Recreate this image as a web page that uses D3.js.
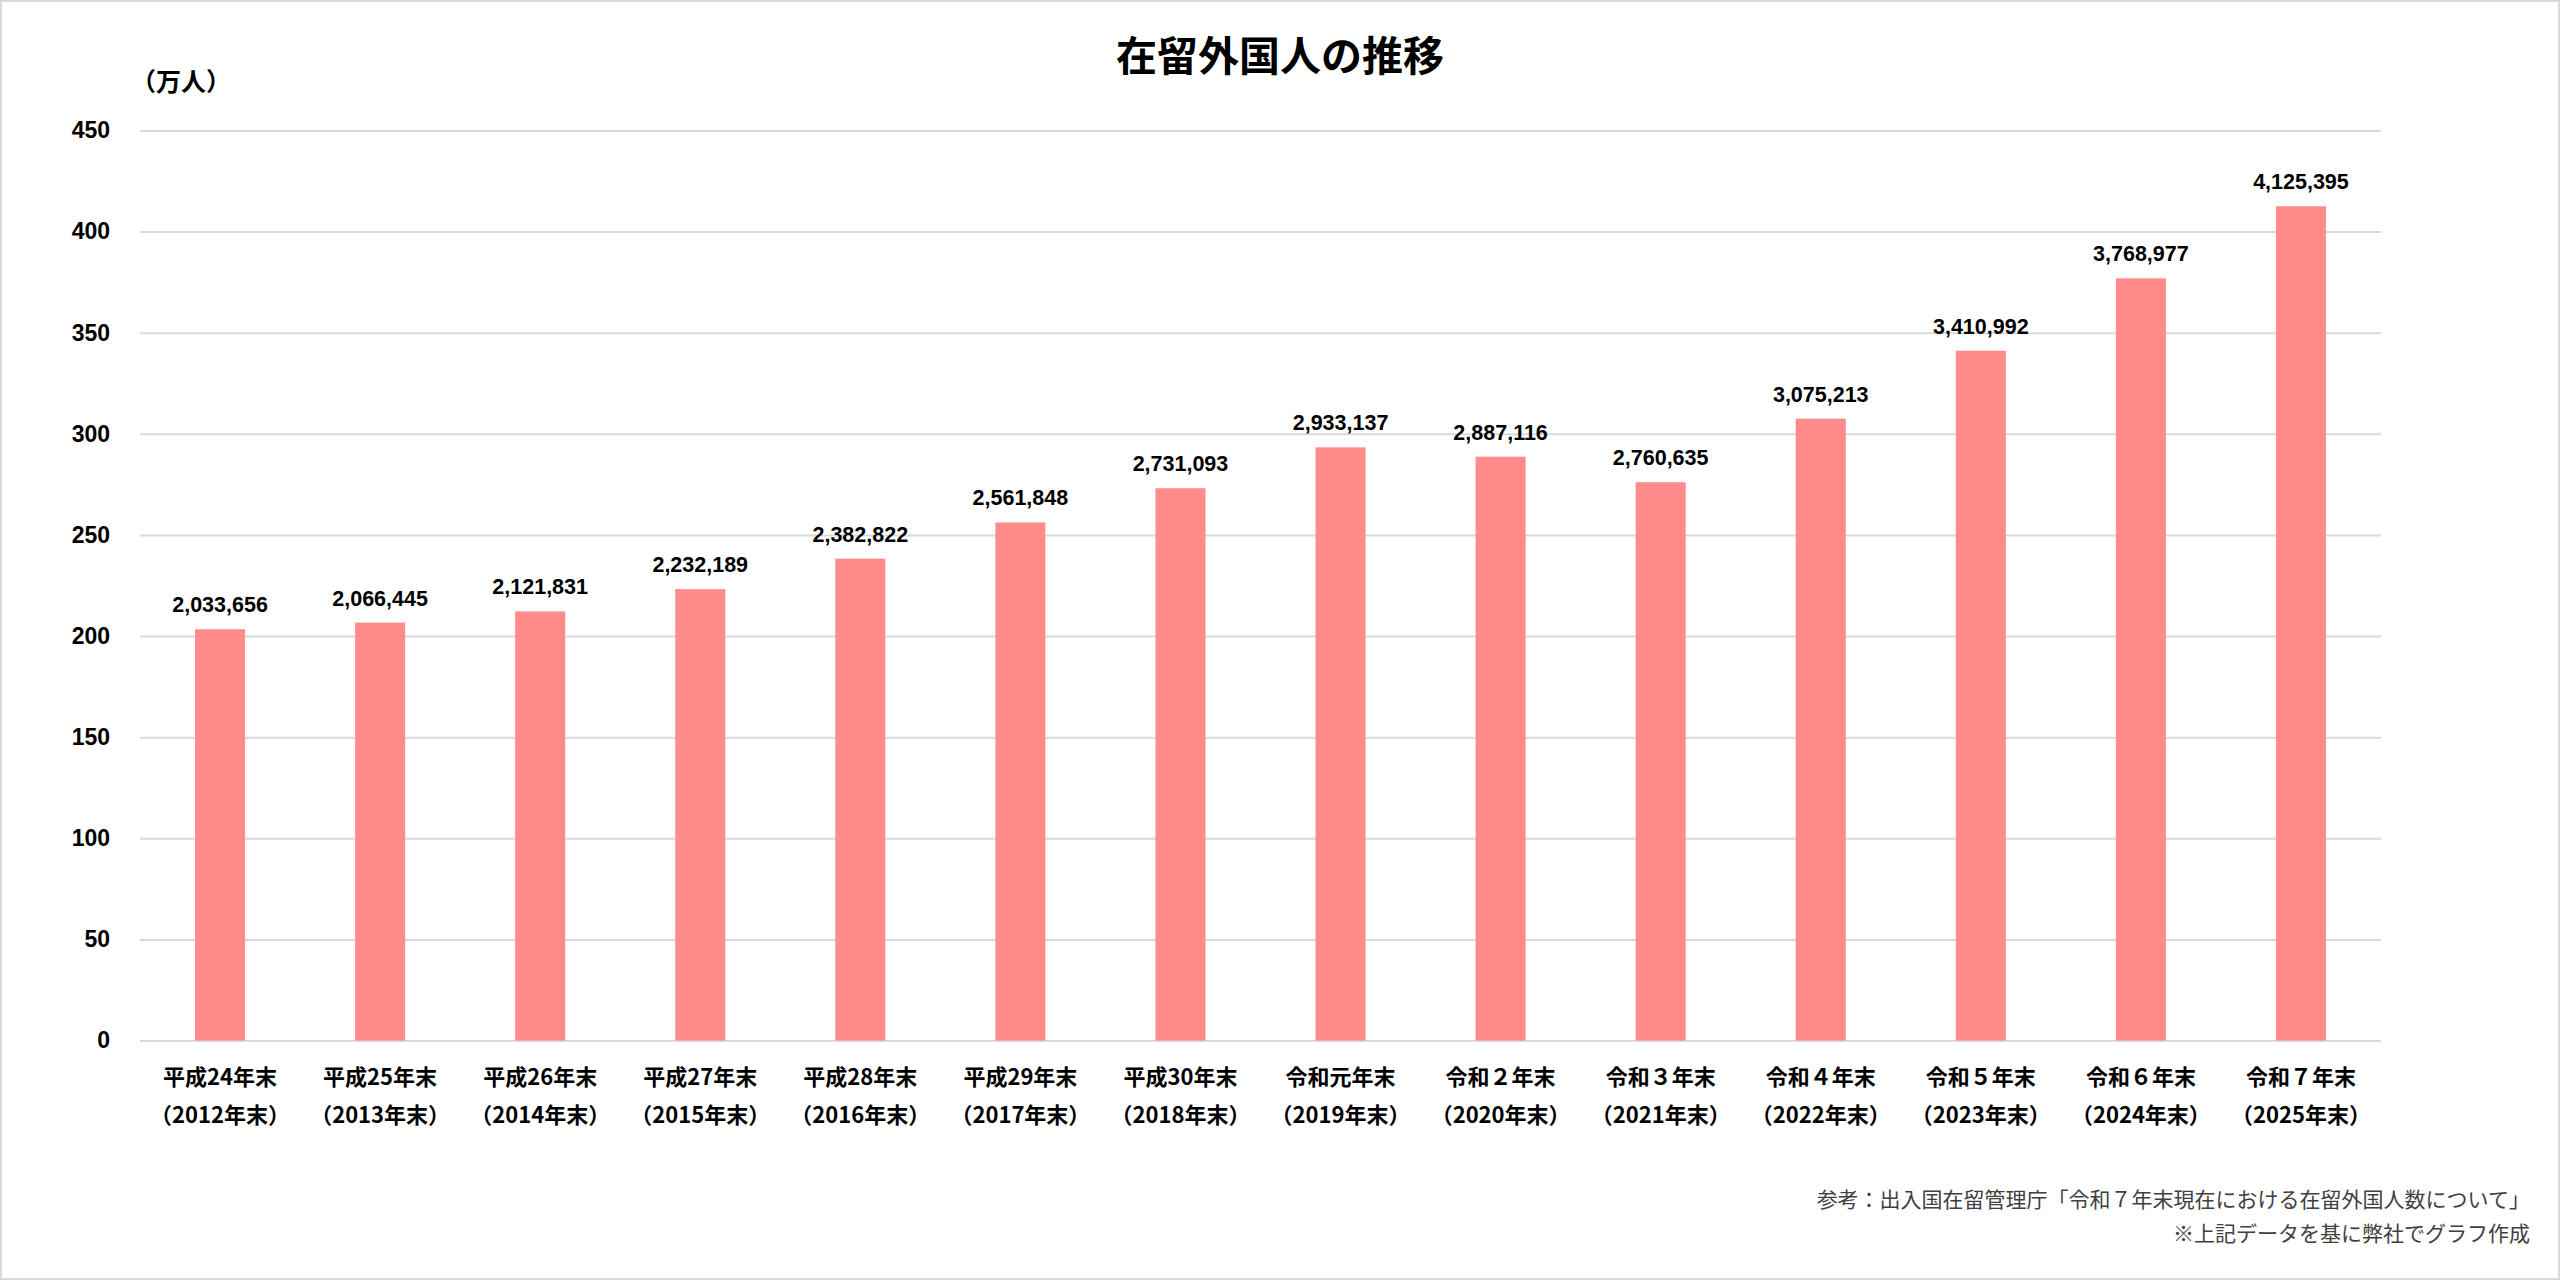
<!DOCTYPE html>
<html lang="ja">
<head>
<meta charset="utf-8">
<script src="https://cdn.jsdelivr.net/npm/d3@7"></script>
<style>
	html, body { margin: 0; padding: 0; background: #fff; }
	svg { display: block; }
</style>
</head>
<body>
<svg id="chart" width="2560" height="1280"></svg>
<script>
var eras = ["平成24年末", "平成25年末", "平成26年末", "平成27年末", "平成28年末",
	"平成29年末", "平成30年末", "令和元年末", "令和２年末", "令和３年末",
	"令和４年末", "令和５年末", "令和６年末", "令和７年末"];
var years = ["（2012年末）", "（2013年末）", "（2014年末）", "（2015年末）", "（2016年末）",
	"（2017年末）", "（2018年末）", "（2019年末）", "（2020年末）", "（2021年末）",
	"（2022年末）", "（2023年末）", "（2024年末）", "（2025年末）"];
var residents = [2033656, 2066445, 2121831, 2232189, 2382822, 2561848, 2731093,
	2933137, 2887116, 2760635, 3075213, 3410992, 3768977, 4125395];
var yTicks = [0, 50, 100, 150, 200, 250, 300, 350, 400, 450];
var notes = ["参考：出入国在留管理庁「令和７年末現在における在留外国人数について」",
	"※上記データを基に弊社でグラフ作成"];

var jpFont = "'Noto Sans CJK JP', 'Noto Sans', sans-serif";
var numFont = "'Liberation Sans', Arial, sans-serif";

var svg = d3.select("#chart");

// frame
svg.append("rect")
	.attr("x", 1).attr("y", 1)
	.attr("width", 2558).attr("height", 1278)
	.attr("fill", "#fff")
	.attr("stroke", "#d9d9d9")
	.attr("stroke-width", 2);

const margin = { top: 130.5, right: 179, bottom: 239.5, left: 140 };
const width = 2560 - margin.left - margin.right;
const height = 1280 - margin.top - margin.bottom;

var G = svg.append("g")
	.attr("transform", "translate(" + margin.left + "," + margin.top + ")");

var xScale = d3.scaleBand()
	.domain(d3.range(eras.length))
	.range([0, width])
	.paddingInner(0.6875)
	.paddingOuter(0.34375);

var yScale = d3.scaleLinear()
	.domain([0, 450])
	.range([height, 0]);

// gridlines + y labels
var yAxis = d3.axisLeft(yScale)
	.tickValues(yTicks)
	.tickSize(-width)
	.tickPadding(30);

var yG = G.append("g").attr("class", "yaxis").call(yAxis);
yG.select(".domain").remove();
yG.selectAll(".tick line")
	.attr("stroke", "#d9d9d9")
	.attr("stroke-width", 2);
yG.selectAll(".tick text")
	.attr("fill", "#000")
	.style("font-family", numFont)
	.style("font-weight", "bold")
	.style("font-size", "23px");

// bars
G.selectAll(".bar")
	.data(residents)
	.enter().append("rect")
	.attr("class", "bar")
	.attr("x", (d, i) => xScale(i))
	.attr("width", xScale.bandwidth())
	.attr("y", d => yScale(d / 10000))
	.attr("height", d => height - yScale(d / 10000))
	.attr("fill", "#ff8b8b");

// value labels
G.selectAll(".val")
	.data(residents)
	.enter().append("text")
	.attr("class", "val")
	.attr("x", (d, i) => xScale(i) + xScale.bandwidth() / 2)
	.attr("y", d => yScale(d / 10000) - 17)
	.attr("text-anchor", "middle")
	.style("font-family", numFont)
	.style("font-weight", "bold")
	.style("font-size", "21.5px")
	.text(d => d3.format(",")(d));

// x labels (two lines)
var xAxis = d3.axisBottom(xScale).tickSize(0).tickFormat("");
var xG = G.append("g")
	.attr("class", "xaxis")
	.attr("transform", "translate(0," + height + ")")
	.call(xAxis);
xG.select(".domain").remove();
xG.selectAll(".tick").each(function(i) {
	var t = d3.select(this);
	t.append("text")
		.attr("y", 37)
		.attr("dy", "0.35em")
		.attr("text-anchor", "middle")
		.attr("fill", "#000")
		.style("font-family", jpFont)
		.style("font-weight", "bold")
		.style("font-size", "22px")
		.text(eras[i]);
	t.append("text")
		.attr("y", 75)
		.attr("dy", "0.35em")
		.attr("text-anchor", "middle")
		.attr("fill", "#000")
		.style("font-family", jpFont)
		.style("font-weight", "bold")
		.style("font-size", "22px")
		.text(years[i]);
});

// title
svg.append("text")
	.attr("x", 1280)
	.attr("y", 57)
	.attr("dy", "0.35em")
	.attr("text-anchor", "middle")
	.style("font-family", jpFont)
	.style("font-weight", "bold")
	.style("font-size", "41px")
	.text("在留外国人の推移");

// unit
svg.append("text")
	.attr("x", 131)
	.attr("y", 82)
	.attr("dy", "0.35em")
	.style("font-family", jpFont)
	.style("font-weight", "bold")
	.style("font-size", "25px")
	.text("（万人）");

// source notes
svg.selectAll(".note")
	.data(notes)
	.enter().append("text")
	.attr("class", "note")
	.attr("x", 2530)
	.attr("y", (d, i) => 1200 + i * 34)
	.attr("dy", "0.35em")
	.attr("text-anchor", "end")
	.attr("fill", "#404040")
	.style("font-family", jpFont)
	.style("font-size", "21px")
	.text(d => d);
</script>
</body>
</html>
